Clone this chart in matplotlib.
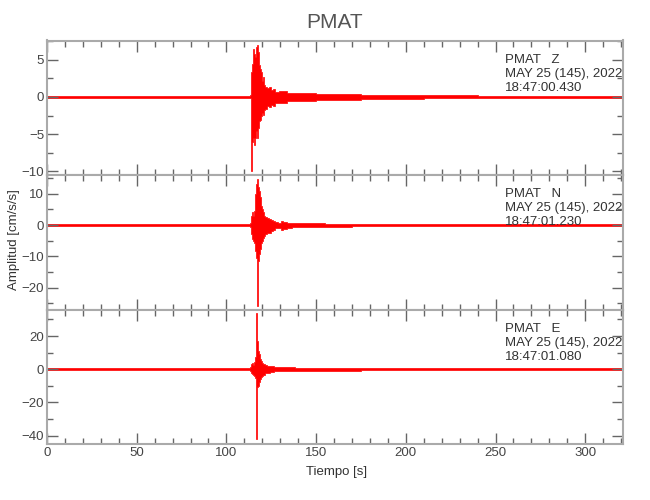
import matplotlib
matplotlib.use("Agg")
import matplotlib.pyplot as plt
from matplotlib.ticker import MultipleLocator

plt.rcParams['font.family'] = ['Liberation Sans', 'DejaVu Sans']

# envelope of each trace: time [s], upper, lower [cm/s/s]
# each value holds from its time up to the next one
t_z = [0, 113.2, 113.7, 114.3, 114.8, 115.4, 116.0, 116.5, 117.1, 117.6, 118.2,
       118.7, 119.3, 119.9, 120.4, 121.0, 121.6, 122.5, 123.6, 124.8, 125.9,
       127.3, 129.2, 134, 140, 150, 160, 175, 190, 210, 240, 321]
hi_z = [0.15, 0.2, 3.4, 4.5, 6.5, 5.8, 5.4, 6.7, 7.0, 6.1, 4.3,
        3.8, 3.4, 2.2, 2.7, 1.6, 1.4, 1.2, 1.3, 0.95, 1.1,
        0.7, 0.8, 0.55, 0.5, 0.42, 0.36, 0.3, 0.25, 0.2, 0.15, 0.15]
lo_z = [-0.15, -0.2, -10.0, -6.0, -5.5, -6.5, -5.5, -4.6, -5.5, -4.2, -3.3,
        -3.1, -2.6, -2.2, -2.4, -1.7, -1.6, -1.2, -1.4, -1.05, -1.2,
        -0.8, -0.8, -0.55, -0.5, -0.42, -0.36, -0.3, -0.25, -0.2, -0.15, -0.15]

t_n = [0, 113.2, 113.7, 114.3, 114.8, 115.4, 116.0, 116.5, 117.1, 117.6, 118.2,
       118.7, 119.3, 119.9, 120.4, 121.0, 121.6, 122.5, 123.6, 124.8, 125.9,
       127.3, 128.8, 130.5, 131.6, 133.5, 136.5, 145, 155, 170, 190, 321]
hi_n = [0.3, 0.5, 3.0, 4.1, 3.0, 4.6, 10.0, 13.2, 14.8, 12.1, 11.0,
        8.9, 6.2, 5.1, 4.1, 3.0, 2.7, 2.3, 1.9, 1.6, 1.4,
        0.85, 0.8, 1.4, 1.1, 0.8, 0.65, 0.55, 0.48, 0.4, 0.34, 0.3]
lo_n = [-0.3, -0.5, -2.9, -4.5, -5.0, -5.6, -8.3, -10.4, -26.0, -11.5, -9.3,
        -7.7, -5.6, -5.0, -4.0, -3.4, -2.9, -2.7, -2.4, -1.8, -1.6,
        -1.0, -0.85, -1.6, -1.3, -0.8, -0.65, -0.55, -0.48, -0.4, -0.34, -0.3]

t_e = [0, 113.2, 113.7, 114.3, 114.8, 115.4, 116.0, 116.5, 117.1, 117.6, 118.2,
       118.7, 119.3, 119.9, 120.4, 121.3, 122.5, 124.2, 126.6, 130.2, 138,
       148, 160, 175, 195, 321]
hi_e = [0.5, 1.6, 3.2, 3.6, 2.8, 4.4, 7.2, 34.0, 17.0, 11.2, 9.2,
        6.2, 4.8, 3.6, 3.2, 2.8, 2.2, 1.8, 1.4, 1.1, 0.95,
        0.85, 0.75, 0.65, 0.55, 0.5]
lo_e = [-0.5, -0.8, -2.4, -2.8, -3.2, -3.8, -5.2, -41.8, -10.8, -10.0, -7.8,
        -5.8, -4.4, -3.8, -3.2, -2.4, -2.0, -1.6, -1.2, -1.1, -0.95,
        -0.85, -0.75, -0.65, -0.55, -0.5]

components = ['Z', 'N', 'E']
start_times = ['18:47:00.430', '18:47:01.230', '18:47:01.080']
ylims = [(-10.5, 7.6), (-27, 16), (-45, 36)]
ymajor = [5, 10, 20]
yminor = [2.5, 5, 10]

traces = [(t_z, hi_z, lo_z), (t_n, hi_n, lo_n), (t_e, hi_e, lo_e)]

fig = plt.figure(figsize=(6.5, 5), dpi=100)
bottoms = [0.65, 0.381, 0.112]
axes = []
for i in range(3):
    ax = fig.add_axes([0.0723, bottoms[i], 0.886, 0.269])
    axes.append(ax)
    t, hi, lo = traces[i]
    ax.fill_between(t, lo, hi, step='post', color='red', lw=0.5, edgecolor='red')
    ax.set_xlim(0, 321)
    ax.set_ylim(*ylims[i])
    ax.xaxis.set_major_locator(MultipleLocator(50))
    ax.xaxis.set_minor_locator(MultipleLocator(10))
    ax.yaxis.set_major_locator(MultipleLocator(ymajor[i]))
    ax.yaxis.set_minor_locator(MultipleLocator(yminor[i]))
    ax.tick_params(which='both', direction='in', top=True, right=True,
                   color='#666666', labelcolor='#444444', labelsize=9.5, pad=2)
    ax.tick_params(which='major', length=8, width=1)
    ax.tick_params(which='minor', length=4, width=1)
    for s in ax.spines.values():
        s.set_color('#aaaaaa')
        s.set_linewidth(1.5)
    if i < 2:
        ax.set_xticklabels([])
    ax.text(0.795, 0.9, 'PMAT   %s\nMAY 25 (145), 2022\n%s' % (components[i], start_times[i]),
            transform=ax.transAxes, ha='left', va='top', fontsize=9.5,
            linespacing=1.2, color='#333333')

fig.text(0.515, 0.955, 'PMAT', ha='center', va='center', fontsize=15, color='#555555')
fig.text(0.022, 0.52, 'Amplitud [cm/s/s]', rotation=90, ha='center', va='center',
         fontsize=9.5, color='#333333')
fig.text(0.518, 0.056, 'Tiempo [s]', ha='center', va='center', fontsize=9.5, color='#333333')

fig.savefig('out.png', dpi=100)
